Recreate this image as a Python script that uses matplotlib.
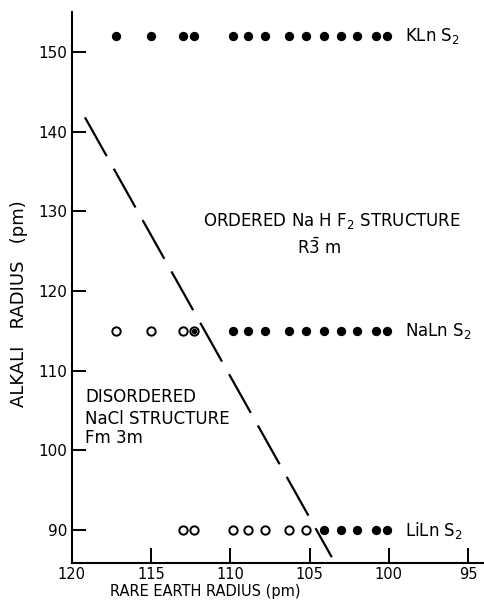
import matplotlib
matplotlib.use('Agg')
import matplotlib.pyplot as plt

# Ln3+ radii (pm), La..Lu without Pm
LN = ['La', 'Ce', 'Pr', 'Nd', 'Sm', 'Eu', 'Gd', 'Tb', 'Dy', 'Ho', 'Er', 'Tm', 'Yb', 'Lu']
LN_R = [117.2, 115.0, 113.0, 112.3, 109.8, 108.9, 107.8, 106.3, 105.2, 104.1, 103.0, 102.0, 100.8, 100.1]

# alkali radii (pm)
K_R, NA_R, LI_R = 152, 115, 90

# ordered (filled) / disordered (open) per series
K_ORD = LN_R
NA_DIS = LN_R[:4]      # La..Nd
NA_BOTH = LN_R[3:4]    # Nd: both phases
NA_ORD = LN_R[4:]      # Sm..Lu
LI_DIS = LN_R[2:9]     # Pr..Dy
LI_ORD = LN_R[9:]      # Ho..Lu

# phase boundary
BOUND_X = [119.16, 103.6]
BOUND_Y = [141.8, 86.6]

XTICKS = [120, 115, 110, 105, 100, 95]
YTICKS = [90, 100, 110, 120, 130, 140, 150]

fig = plt.figure(figsize=(4.84, 6.10), dpi=100)
ax = fig.add_axes([0.148, 0.077, 0.852, 0.903])

filled = dict(ls='none', marker='o', ms=5.7, mfc='black', mec='black', zorder=2)
hollow = dict(ls='none', marker='o', ms=6.0, mfc='white', mec='black', mew=1.4, zorder=2)

ax.plot(K_ORD, [K_R] * len(K_ORD), **filled)
ax.plot(NA_DIS, [NA_R] * len(NA_DIS), **hollow)
ax.plot(NA_ORD, [NA_R] * len(NA_ORD), **filled)
ax.plot(NA_BOTH, [NA_R] * len(NA_BOTH), ls='none', marker='o', ms=3.0,
        mfc='black', mec='black', zorder=2.5)
ax.plot(LI_DIS, [LI_R] * len(LI_DIS), **hollow)
ax.plot(LI_ORD, [LI_R] * len(LI_ORD), **filled)

ax.plot(BOUND_X, BOUND_Y, color='black', lw=1.6, ls=(0, (20, 6.5)),
        solid_capstyle='butt', dash_capstyle='butt', zorder=3)

ax.set_xlim(120, 94.0)
ax.set_ylim(85.86, 155.0)
ax.set_xticks(XTICKS)
ax.set_yticks(YTICKS)
ax.set_xticklabels([str(t) for t in XTICKS], fontsize=10.5)
ax.set_yticklabels([str(t) for t in YTICKS], fontsize=11)
ax.tick_params(axis='x', direction='in', length=10.5, width=1.4, pad=3)
ax.tick_params(axis='y', direction='in', length=10, width=1.4, pad=3)

for s in ['top', 'right']:
    ax.spines[s].set_visible(False)
for s in ['left', 'bottom']:
    ax.spines[s].set_linewidth(1.5)

# series labels
ax.text(98.98, K_R, 'KLn S$_2$', fontsize=12, ha='left', va='center')
ax.text(98.98, NA_R, 'NaLn S$_2$', fontsize=12, ha='left', va='center')
ax.text(98.98, LI_R, 'LiLn S$_2$', fontsize=12, ha='left', va='center')

# region labels
ax.text(103.6, 128.8, 'ORDERED Na H F$_2$ STRUCTURE', fontsize=12, ha='center', va='center')
ax.text(105.8, 125.4, r'R$\bar{3}$ m', fontsize=12, ha='left', va='center')
ax.text(119.16, 106.75, 'DISORDERED', fontsize=12, ha='left', va='center')
ax.text(119.16, 104.0, 'NaCl STRUCTURE', fontsize=12, ha='left', va='center')
ax.text(119.16, 101.5, 'Fm 3m', fontsize=12, ha='left', va='center')

fig.text(0.4246, 0.031, 'RARE EARTH RADIUS (pm)', fontsize=10.5, ha='center', va='center')
fig.text(0.040, 0.503, 'ALKALI   RADIUS   (pm)', fontsize=13, rotation=90,
         ha='center', va='center')

fig.savefig('out.png', dpi=100)
